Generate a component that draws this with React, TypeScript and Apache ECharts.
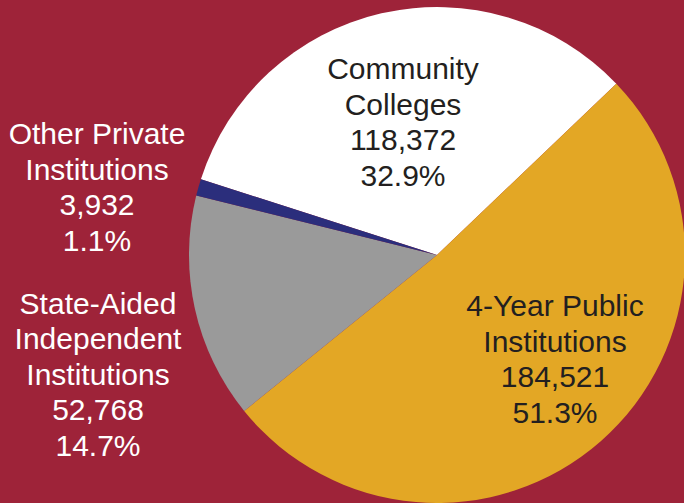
import React, { useEffect, useRef } from "react";
import * as echarts from "echarts";

const categories = [
  "Community\nColleges",
  "4-Year Public\nInstitutions",
  "State-Aided\nIndependent\nInstitutions",
  "Other Private\nInstitutions",
];
const enrollment = [118372, 184521, 52768, 3932];
const sliceColors = ["#ffffff", "#e3a725", "#9a9a9a", "#2b2e7c"];
const labelColors = ["#231f20", "#231f20", "#ffffff", "#ffffff"];
const labelCenters = [
  [403, 122],
  [555, 359],
  [98, 374],
  [97, 187],
];

export default function App() {
  const ref = useRef<HTMLDivElement>(null);
  useEffect(() => {
    document.body.style.margin = "0";
    const chart = echarts.init(ref.current!, null, { renderer: "svg" });
    const total = enrollment.reduce((a, b) => a + b, 0);
    chart.setOption({
      animation: false,
      backgroundColor: "#9e2339",
      series: [
        {
          type: "pie",
          center: [437, 255],
          radius: 248,
          startAngle: 162.2,
          clockwise: true,
          silent: true,
          avoidLabelOverlap: false,
          emphasis: { disabled: true },
          labelLine: { show: false },
          label: {
            show: true,
            position: "inside",
            fontFamily: "Liberation Sans, Arial, sans-serif",
            fontSize: 30,
            lineHeight: 35.5,
            align: "center",
            formatter: (p: any) =>
              `${p.name}\n${p.value.toLocaleString("en-US")}\n${((p.value / total) * 100).toFixed(1)}%`,
          },
          labelLayout: (params: any) => {
            const c = labelCenters[params.dataIndex];
            return { x: c[0], y: c[1], align: "center", verticalAlign: "middle" };
          },
          data: categories.map((name, i) => ({
            name,
            value: enrollment[i],
            itemStyle: { color: sliceColors[i], borderWidth: 0 },
            label: { color: labelColors[i] },
          })),
        },
      ],
    });
    return () => chart.dispose();
  }, []);
  return <div ref={ref} style={{ width: 684, height: 503 }} />;
}
